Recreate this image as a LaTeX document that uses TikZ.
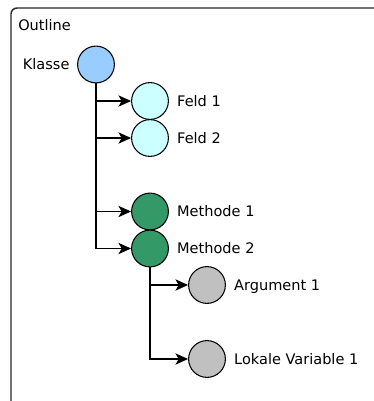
\documentclass[tikz,border=0pt]{standalone}
\usepackage{fontspec}
\setmainfont{DejaVu Sans}
\usetikzlibrary{arrows.meta}
\definecolor{klassec}{RGB}{153,204,255}
\definecolor{feldc}{RGB}{204,255,255}
\definecolor{methc}{RGB}{51,153,102}
\definecolor{argc}{RGB}{192,192,192}
\definecolor{framec}{RGB}{40,40,40}
\begin{document}
\begin{tikzpicture}[x=0.75pt,y=-0.75pt,
  item/.style={circle,draw=black,line width=0.8pt,minimum size=27.6pt,inner sep=0pt},
  lbl/.style={inner sep=0pt,text height=0.76em,text depth=0pt,font=\fontsize{10.9}{13}\selectfont},
  conn/.style={line width=0.8pt,-{Stealth[length=9.5pt,width=8.5pt,inset=2.5pt]}},
  framestyle/.style={draw=framec,line width=1.1pt,rounded corners=4.5pt}]
\useasboundingbox (0,0) rectangle (374,401);
\draw[framestyle] (11,402) -- (11,8) -- (375,8);
\node[lbl,anchor=base west] (outline) at (18,30) {Outline};
\node[item,fill=klassec] (klasse) at (96,64.5) {};
\node[item,fill=feldc] (feld1) at (150,101) {};
\node[item,fill=feldc] (feld2) at (150,138) {};
\node[item,fill=methc] (meth1) at (150,211.5) {};
\node[item,fill=methc] (meth2) at (150,248.5) {};
\node[item,fill=argc] (arg1) at (207,285) {};
\node[item,fill=argc] (lok1) at (207,359) {};
\node[lbl,anchor=east] (tklasse) at ([xshift=-5.5pt]klasse.west) {Klasse};
\node[lbl,anchor=west] (tfeld1) at ([xshift=6pt]feld1.east) {Feld 1};
\node[lbl,anchor=west] (tfeld2) at ([xshift=6pt]feld2.east) {Feld 2};
\node[lbl,anchor=west] (tmeth1) at ([xshift=6pt]meth1.east) {Methode 1};
\node[lbl,anchor=west] (tmeth2) at ([xshift=6pt]meth2.east) {Methode 2};
\node[lbl,anchor=west] (targ1) at ([xshift=6pt]arg1.east) {Argument 1};
\node[lbl,anchor=west] (tlok1) at ([xshift=6pt]lok1.east) {Lokale Variable 1};
\draw[conn] (klasse.south) |- (feld1.west);
\draw[conn] (klasse.south) |- (feld2.west);
\draw[conn] (klasse.south) |- (meth1.west);
\draw[conn] (klasse.south) |- (meth2.west);
\draw[conn] (meth2.south) |- (arg1.west);
\draw[conn] (meth2.south) |- (lok1.west);
\end{tikzpicture}
\end{document}
